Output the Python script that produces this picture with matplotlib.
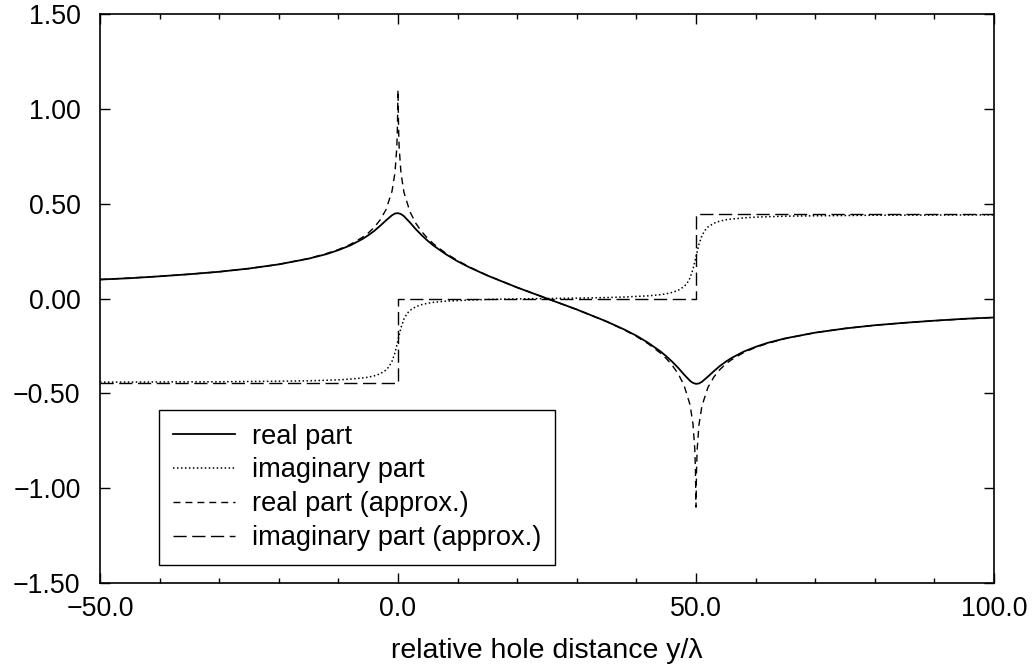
import matplotlib
matplotlib.use("Agg")
import matplotlib.pyplot as plt
from matplotlib.ticker import MultipleLocator, FuncFormatter

plt.rcParams['font.family'] = ['Liberation Sans', 'DejaVu Sans']

# real part (exact)
x_re = [-50, -45, -40, -35, -30, -25, -20, -15, -12, -10,
        -8, -6, -5, -4, -3, -2, -1, -0.5, 0, 0.5,
        1, 2, 3, 4, 5, 6, 8, 10, 12, 15,
        20, 25, 30, 35, 38, 40, 42, 44, 45, 46,
        47, 48, 49, 49.5, 50, 50.5, 51, 52, 53, 54,
        55, 56, 58, 60, 62, 65, 70, 75, 80, 85,
        90, 95, 100]
y_re = [0.100, 0.107, 0.117, 0.128, 0.141, 0.158, 0.180, 0.210, 0.234, 0.255,
        0.280, 0.313, 0.333, 0.356, 0.383, 0.412, 0.439, 0.448, 0.450, 0.445,
        0.434, 0.401, 0.365, 0.333, 0.304, 0.278, 0.234, 0.196, 0.164, 0.121,
        0.058, 0.000, -0.058, -0.121, -0.164, -0.196, -0.234, -0.278, -0.304, -0.333,
        -0.365, -0.401, -0.434, -0.445, -0.450, -0.448, -0.439, -0.412, -0.383, -0.356,
        -0.333, -0.313, -0.280, -0.255, -0.234, -0.210, -0.180, -0.158, -0.141, -0.128,
        -0.117, -0.107, -0.100]

# imaginary part (exact)
x_im = [-50, -40, -30, -20, -15, -10, -8, -6, -5, -4,
        -3, -2, -1.5, -1, -0.5, 0, 0.5, 1, 1.5, 2,
        3, 4, 5, 6, 8, 10, 12, 15, 20, 25,
        30, 35, 38, 40, 42, 44, 45, 46, 47, 48,
        48.5, 49, 49.5, 50, 50.5, 51, 51.5, 52, 53, 54,
        55, 56, 58, 60, 62, 65, 70, 80, 90, 100]
y_im = [-0.441, -0.440, -0.439, -0.436, -0.434, -0.429, -0.425, -0.419, -0.415, -0.408,
        -0.397, -0.377, -0.359, -0.331, -0.286, -0.220, -0.154, -0.108, -0.080, -0.063,
        -0.043, -0.032, -0.025, -0.020, -0.014, -0.011, -0.008, -0.005, -0.002, 0.000,
        0.002, 0.005, 0.008, 0.011, 0.014, 0.020, 0.025, 0.032, 0.043, 0.063,
        0.080, 0.108, 0.154, 0.220, 0.286, 0.331, 0.359, 0.377, 0.397, 0.408,
        0.415, 0.419, 0.425, 0.429, 0.431, 0.434, 0.436, 0.439, 0.440, 0.441]

# real part (approx.)
x_ap = [-50, -45, -40, -35, -30, -25, -20, -15, -12, -10,
        -8, -6, -5, -4, -3, -2, -1, -0.5, -0.2, -0.1,
        -0.05, 0, 0.05, 0.1, 0.2, 0.5, 1, 2, 3, 4,
        5, 6, 8, 10, 12, 15, 20, 25,
        30, 35, 38, 40, 42, 44, 45, 46, 47, 48,
        49, 49.5, 49.8, 49.9, 49.95, 50, 50.05, 50.1, 50.2, 50.5,
        51, 52, 53, 54, 55, 56, 58, 60, 62, 65,
        70, 75, 80, 85, 90, 95, 100]
y_ap = [0.100, 0.108, 0.117, 0.128, 0.141, 0.158, 0.180, 0.211, 0.237, 0.258,
        0.285, 0.322, 0.345, 0.375, 0.414, 0.469, 0.566, 0.665, 0.796, 0.895,
        0.995, 1.100, 0.995, 0.895, 0.795, 0.662, 0.560, 0.458, 0.396, 0.352,
        0.316, 0.287, 0.239, 0.200, 0.166, 0.122, 0.058, 0.000,
        -0.058, -0.122, -0.166, -0.200, -0.239, -0.287, -0.316, -0.352, -0.396, -0.458,
        -0.560, -0.662, -0.795, -0.895, -0.995, -1.100, -0.995, -0.895, -0.796, -0.665,
        -0.566, -0.469, -0.414, -0.375, -0.345, -0.322, -0.285, -0.258, -0.237, -0.211,
        -0.180, -0.158, -0.141, -0.128, -0.117, -0.108, -0.100]

# imaginary part (approx.) - step
x_ia = [-50, 0, 0, 50, 50, 100]
y_ia = [-0.445, -0.445, 0.0, 0.0, 0.445, 0.445]

fig = plt.figure(figsize=(10.34, 6.66), dpi=100)
ax = fig.add_axes([0.0967, 0.1246, 0.8646, 0.8544])

ax.plot(x_re, y_re, color="black", lw=1.3, linestyle="-", label="real part")
ax.plot(x_im, y_im, color="black", lw=1.1, linestyle=(0, (1, 1.6)), label="imaginary part")
ax.plot(x_ap, y_ap, color="black", lw=1.0, linestyle=(0, (5, 3.6)), label="real part (approx.)")
ax.plot(x_ia, y_ia, color="black", lw=1.0, linestyle=(0, (9.5, 4)), label="imaginary part (approx.)")

ax.set_xlim(-50, 100)
ax.set_ylim(-1.5, 1.5)
ax.xaxis.set_major_locator(MultipleLocator(50))
ax.xaxis.set_minor_locator(MultipleLocator(10))
ax.yaxis.set_major_locator(MultipleLocator(0.5))

def fmt(f):
    return FuncFormatter(lambda v, p: f.format(v).replace("-", "\u2212"))

ax.xaxis.set_major_formatter(fmt("{:.1f}"))
ax.yaxis.set_major_formatter(fmt("{:.2f}"))

ax.tick_params(which="both", direction="in", top=True, right=True, labelsize=19.3, width=1)
ax.tick_params(which="major", length=7)
ax.tick_params(which="minor", length=3.5)
ax.tick_params(axis="y", pad=14)
ax.tick_params(axis="x", pad=9)
for s in ax.spines.values():
    s.set_linewidth(1.2)

ax.set_xlabel("relative hole distance y/\u03bb", fontsize=20.5, labelpad=12)

leg = ax.legend(loc="lower left", bbox_to_anchor=(0.066, 0.032), borderaxespad=0,
                fontsize=19.6, handlelength=2.3, labelspacing=0.29, handletextpad=0.62,
                borderpad=0.5, fancybox=False, framealpha=1)
leg.get_frame().set_edgecolor("black")
leg.get_frame().set_linewidth(1.0)

fig.savefig("out.png", dpi=100)
